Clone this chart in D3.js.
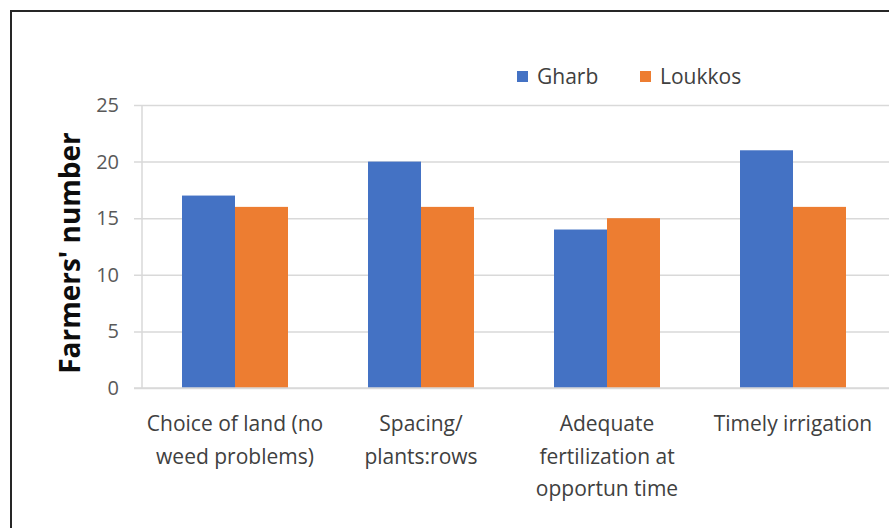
<!DOCTYPE html>
<html>
<head>
<meta charset="utf-8">
<script src="https://cdn.jsdelivr.net/npm/d3@7"></script>
<style>
  html, body { margin: 0; padding: 0; background: #fff; }
  svg { display: block; }
  text { font-family: "Open Sans", Lato, sans-serif; }
</style>
</head>
<body>
<svg id="chart" width="889" height="528"></svg>
<script>
// Farmers' practices by region
const categories = [
  ["Choice of land (no", "weed problems)"],
  ["Spacing/", "plants:rows"],
  ["Adequate", "fertilization at", "opportun time"],
  ["Timely irrigation"]
];
const seriesNames = ["Gharb", "Loukkos"];
const gharb = [17, 20, 14, 21];
const loukkos = [16, 16, 15, 16];
const yTicks = [0, 5, 10, 15, 20, 25];
const colors = ["#4472C4", "#ED7D31"];

const svg = d3.select("#chart");
const W = 889, H = 528;
const plot = { left: 142, right: 886, top: 105, bottom: 388 };

// outer frame (top and left edges visible)
svg.append("path")
  .attr("d", `M11,${H + 5} L11,11 L${W + 5},11`)
  .attr("fill", "none")
  .attr("stroke", "#262626")
  .attr("stroke-width", 2);

const x0 = d3.scaleBand()
  .domain(d3.range(categories.length))
  .range([plot.left, plot.right])
  .paddingInner(0)
  .paddingOuter(0);

const x1 = d3.scaleBand()
  .domain(seriesNames)
  .range([0, x0.bandwidth()])
  .paddingInner(0)
  .paddingOuter(0.755);

const y = d3.scaleLinear().domain([0, 25]).range([plot.bottom, plot.top]);

// gridlines and y axis labels
const yAxis = d3.axisLeft(y)
  .tickValues(yTicks)
  .tickSize(-(W - plot.left + 8))
  .tickPadding(15)
  .tickFormat(d3.format("d"));

const gy = svg.append("g")
  .attr("transform", `translate(${plot.left - 8},0)`)
  .call(yAxis);
gy.select(".domain").remove();
gy.selectAll(".tick line").attr("stroke", "#d9d9d9").attr("stroke-width", 1.5);
gy.selectAll(".tick text")
  .attr("fill", "#595959")
  .style("font-size", "20px");

// vertical axis line
svg.append("line")
  .attr("x1", plot.left).attr("x2", plot.left)
  .attr("y1", plot.top).attr("y2", plot.bottom)
  .attr("stroke", "#d9d9d9").attr("stroke-width", 1.5);

// bars
const data = categories.map((c, i) => ({ i, values: [gharb[i], loukkos[i]] }));
const groups = svg.append("g").selectAll("g")
  .data(data).join("g")
  .attr("transform", d => `translate(${x0(d.i)},0)`);

groups.selectAll("rect")
  .data(d => d.values.map((v, k) => ({ name: seriesNames[k], v, k })))
  .join("rect")
  .attr("x", d => x1(d.name))
  .attr("width", x1.bandwidth())
  .attr("y", d => y(d.v))
  .attr("height", d => y(0) - y(d.v))
  .attr("fill", d => colors[d.k]);

// baseline
svg.append("line")
  .attr("x1", plot.left - 8).attr("x2", W)
  .attr("y1", plot.bottom).attr("y2", plot.bottom)
  .attr("stroke", "#d9d9d9").attr("stroke-width", 1.5);

// category labels
const catG = svg.append("g");
categories.forEach((lines, i) => {
  const t = catG.append("text")
    .attr("x", x0(i) + x0.bandwidth() / 2)
    .attr("y", 431)
    .attr("text-anchor", "middle")
    .attr("fill", "#404040")
    .style("font-size", "21px");
  lines.forEach((ln, j) => {
    t.append("tspan")
      .attr("x", x0(i) + x0.bandwidth() / 2)
      .attr("dy", j === 0 ? 0 : 32.5)
      .text(ln);
  });
});

// y axis title
svg.append("text")
  .attr("transform", `translate(80,253) rotate(-90)`)
  .attr("text-anchor", "middle")
  .attr("fill", "#0d0d0d")
  .style("font-size", "28px")
  .style("font-weight", "bold")
  .text("Farmers' number");

// legend
const legendX = [517, 640];
seriesNames.forEach((name, k) => {
  svg.append("rect")
    .attr("x", legendX[k]).attr("y", 71)
    .attr("width", 11).attr("height", 11)
    .attr("fill", colors[k]);
  svg.append("text")
    .attr("x", legendX[k] + 20).attr("y", 84)
    .attr("fill", "#404040")
    .style("font-size", "21px")
    .text(name);
});
</script>
</body>
</html>
